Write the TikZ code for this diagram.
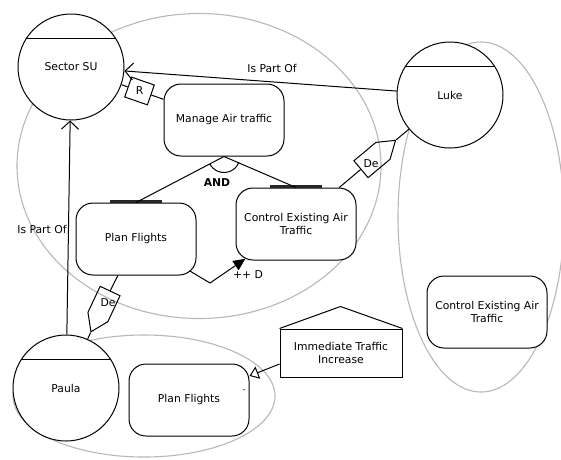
\documentclass[tikz,border=0pt]{standalone}
\usepackage{fontspec}
\setmainfont{DejaVu Sans}
\usetikzlibrary{arrows.meta,shapes.symbols,calc}

\tikzset{
  every node/.style={font=\fontsize{10.8pt}{13pt}\selectfont},
  actor/.style={circle, draw, fill=white, minimum size=106pt, inner sep=0pt, line width=1pt},
  task/.style={rectangle, rounded corners=17pt, draw, fill=white, minimum width=120pt,
               minimum height=72pt, align=center, inner sep=2pt, line width=1pt},
  boundary/.style={draw=black!28, line width=1.1pt},
  link/.style={draw, line width=1pt},
  depmark/.style={signal, signal to=east, signal pointer angle=68, draw, line width=1pt,
                  minimum width=45pt, minimum height=22pt, inner sep=0pt},
  decbar/.style={line width=2.6pt, black!85},
  partof/.style={link, -{Straight Barb[length=8pt,width=17pt]}},
}

\begin{document}
\begin{tikzpicture}[x=1pt, y=-1pt]
  \fill[white] (0,0) rectangle (561,459);
  \useasboundingbox (0,0) rectangle (561,459);

  % actor boundaries
  \draw[boundary] (199,166) ellipse [x radius=182, y radius=152.5];
  \draw[boundary] (481,217) ellipse [x radius=83, y radius=175];
  \draw[boundary] (144,396) ellipse [x radius=131, y radius=61];

  % actors
  \node[actor] (sector) at (71,67)  {\raisebox{-2pt}{Sector SU}};
  \node[actor] (luke)   at (450,95) {\raisebox{-3pt}{Luke}};
  \node[actor] (paula)  at (66,388) {\raisebox{-3pt}{Paula}};
  \foreach \a in {sector,luke,paula}
    \draw[link] (\a.148) -- (\a.32);

  % tasks
  \node[task] (manage) at (224,120) {\raisebox{-3pt}{Manage Air traffic}};
  \node[task] (plan)   at (136,239) {Plan Flights};
  \node[task] (ctrl)   at (296,224) {Control Existing Air\\Traffic};
  \node[task] (plan2)  at (189,400) {Plan Flights};
  \node[task] (ctrl2)  at (487,312) {Control Existing Air\\Traffic};

  % softgoal-like house shape
  \node[draw, fill=white, line width=1pt, minimum width=122pt, minimum height=48pt,
        inner sep=2pt, align=center] (imm) at (341,353) {Immediate Traffic\\Increase};
  \draw[link, line join=miter] (imm.north west) -- ++(61,-22) -- (imm.north east);

  % AND decomposition
  \draw[decbar] ([xshift=-26pt,yshift=1pt]plan.north) -- ([xshift=26pt,yshift=1pt]plan.north);
  \draw[decbar] ([xshift=-26pt,yshift=1pt]ctrl.north) -- ([xshift=26pt,yshift=1pt]ctrl.north);
  \draw[link] (plan.north) -- (manage.south) -- (ctrl.north);
  \draw[link] (manage.south) ++(21:16) arc[start angle=21, end angle=153, radius=16];
  \node[font=\fontsize{10.8pt}{13pt}\selectfont\bfseries] (andlbl) at (217,183) {AND};

  % contribution ++ D
  \coordinate (bendD) at (210,283);
  \draw[link, -{Triangle[length=12pt,width=11pt]}, shorten <=-8pt, shorten >=-3pt]
    (plan) -- (bendD) -- (ctrl);
  \node (dlbl) at (248,275) {++ D};

  % is-part-of associations
  \draw[partof] (luke) -- (sector);
  \node (ipo1) at (272,68) {Is Part Of};
  \draw[partof] (paula) -- (sector);
  \node (ipo2) at (42,229) {Is Part Of};

  % R link between Sector SU and Manage Air traffic
  \node[draw, line width=1pt, rotate=-19.1, minimum width=24pt, minimum height=21pt,
        inner sep=0pt] (rbox) at (139.5,91) {};
  \node (rlbl) at (rbox) {R};
  \draw[link] (sector) -- (rbox);
  \draw[link] (rbox) -- (manage);

  % dependencies
  \node[depmark, rotate=39.9] (deL) at (372,160) {};
  \node (deLlbl) at (371,164) {De};
  \draw[link] (luke) -- (deL.east);
  \draw[link] (deL.west) -- (ctrl);

  \node[depmark, rotate=-115.2] (deP) at (104,304) {};
  \node (dePlbl) at (108,303) {De};
  \draw[link] (plan) -- (deP.west);
  \draw[link] (deP.east) -- (paula);

  % contribution from Immediate Traffic Increase
  \draw[link, -{Triangle[open, length=9pt, width=13pt]}]
    ([yshift=-11pt]imm.west) -- (plan2);
  \node[font=\fontsize{8pt}{9pt}\selectfont] (minus) at (244,391) {-};
\end{tikzpicture}
\end{document}
